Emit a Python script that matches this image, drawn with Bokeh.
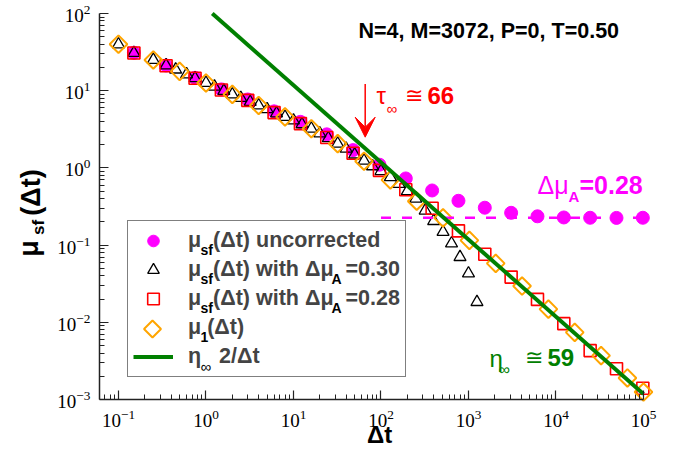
import math
from bokeh.plotting import figure
from bokeh.models import (Label, Legend, LegendItem, Arrow, VeeHead, FixedTicker, Range1d)
from bokeh.embed import file_html
from bokeh.resources import INLINE

# ---------------- data ----------------
# mu_sf(dt) uncorrected
t_unc = [0.15, 0.35, 0.75, 1.5, 3, 6, 12, 24, 48, 96, 192, 384, 768, 1536,
         3072, 6144, 12288, 24576, 49152, 98304]
mu_unc = [31.0, 21.2, 14.7, 10.4, 7.7, 5.4, 3.95, 2.72, 1.70, 1.10, 0.73, 0.51,
          0.375, 0.305, 0.262, 0.236, 0.228, 0.226, 0.225, 0.226]

# mu_sf(dt) with dmu_A = 0.30
t_030 = [0.1, 0.15, 0.25, 0.35, 0.45, 0.6, 0.75, 1, 1.25, 1.6, 2, 2.5, 3.2, 4, 5,
         6.4, 8, 10, 12.5, 16, 20, 25, 32, 40, 50, 64, 80, 100, 128, 160, 200,
         250, 320, 400, 512, 640, 800, 1000, 1250]
mu_030 = [39.8, 30.8, 25.1, 21.3, 18.8, 16.3, 14.5, 12.6, 11.3, 9.95, 8.95, 8.05,
          7.16, 6.44, 5.75, 5.09, 4.58, 4.12, 3.67, 3.22, 2.80, 2.43, 2.06, 1.77,
          1.49, 1.24, 1.05, 0.91, 0.76, 0.62, 0.50, 0.40, 0.28, 0.205, 0.148,
          0.105, 0.070, 0.043, 0.0183]

# mu_sf(dt) with dmu_A = 0.28
t_028 = [0.15, 0.35, 0.75, 1.5, 3, 6, 12, 24, 48, 96, 192, 384, 768, 1536,
         3072, 6144, 12288, 24576, 49152, 98304]
mu_028 = [30.8, 21.0, 14.5, 10.2, 7.5, 5.2, 3.75, 2.48, 1.55, 0.93, 0.52, 0.30,
          0.153, 0.076, 0.0385, 0.0198, 0.0096, 0.0043, 0.0025, 0.0014]

# mu_1(dt)
t_mu1 = [0.1, 0.25, 0.5, 1, 2, 4, 8, 16, 32, 64, 128, 256, 512, 1024, 2048,
         4096, 8192, 16384, 32768, 65536, 100000]
mu_1 = [40.0, 25.0, 17.8, 12.6, 8.95, 6.44, 4.58, 3.22, 2.06, 1.22, 0.70, 0.37,
        0.225, 0.115, 0.058, 0.0295, 0.0148, 0.0074, 0.0037, 0.00190, 0.00125]

# eta_inf * 2/dt  (eta_inf = 59)
eta_x = [1.18, 100000]
eta_y = [100.0, 0.00118]

# plateau of the uncorrected data (dmu_A)
dmu_x = [100, 100000]
dmu_y = [0.226, 0.226]

# tau_inf arrow
tau = 66
tau_arrow_y = [12.2, 2.5]

x_major = [0.1, 1, 10, 100, 1000, 10000, 100000]
y_major = [0.001, 0.01, 0.1, 1, 10, 100]

# ---------------- layout ----------------
W, H = 669, 447
XLO = -1.217          # log10 of the left end of the x axis
X_DEC = 87.5          # pixels per decade (x)
Y_DEC = 77.2          # pixels per decade (y)
FL, FT = 99, 13       # axis corner: left / top in page pixels


def at(ix, iy):
    """page pixel -> data coordinates (for text / legend placement only)"""
    return 10 ** (XLO + (ix - FL) / X_DEC), 10 ** (2 - (iy - FT) / Y_DEC)


x0, y1 = at(0, 0)
x1, y0 = at(W, H)
p = figure(width=W, height=H, x_axis_type="log", y_axis_type="log",
           x_range=Range1d(x0, x1), y_range=Range1d(y0, y1),
           output_backend="svg", toolbar_location=None,
           min_border_left=0, min_border_right=0, min_border_top=0,
           min_border_bottom=0)
p.outline_line_color = None
p.xgrid.visible = False
p.ygrid.visible = False

x_minor = [m * 10 ** k for k in range(-2, 5) for m in range(2, 10) if 10 ** XLO < m * 10 ** k < 1e5]
y_minor = [m * 10 ** k for k in range(-3, 2) for m in range(2, 10)]
p.xaxis.ticker = FixedTicker(ticks=x_major, minor_ticks=x_minor)
p.yaxis.ticker = FixedTicker(ticks=y_major, minor_ticks=y_minor)
p.xaxis.fixed_location = 1e-3
p.xaxis.bounds = (10 ** XLO, 1e5)
p.yaxis.fixed_location = 10 ** XLO
p.yaxis.bounds = (1e-3, 1e2)

for ax in (p.xaxis[0], p.yaxis[0]):
    ax.major_tick_in = 9
    ax.major_tick_out = 0
    ax.minor_tick_in = 5
    ax.minor_tick_out = 0
    ax.axis_line_width = 1.5
    ax.axis_line_color = "#222222"
    ax.major_tick_line_color = "#222222"
    ax.minor_tick_line_color = "#222222"
    ax.major_tick_line_width = 1.2
    ax.minor_tick_line_width = 1
    ax.major_label_text_font = "Liberation Serif"
    ax.major_label_text_font_size = "19px"
    ax.major_label_text_color = "black"
p.xaxis.major_label_standoff = 10
p.yaxis.major_label_standoff = 9

MAG = "#ff00ff"
RED = "#ff0000"
ORA = "#ffa500"
GRN = "#008000"

r_unc = p.scatter(t_unc, mu_unc, marker="circle", size=13, fill_color=MAG, line_color=MAG)
r_030 = p.scatter(t_030, mu_030, marker="triangle", size=12, fill_color=None,
                  line_color="black", line_width=1.3)
r_028 = p.scatter(t_028, mu_028, marker="square", size=12, fill_color=None,
                  line_color=RED, line_width=1.6)
r_mu1 = p.scatter(t_mu1, mu_1, marker="square", angle=math.pi / 4, size=12.5,
                  fill_color=None, line_color=ORA, line_width=2)
p.line(dmu_x, dmu_y, line_color=MAG, line_width=2.5, line_dash="10 11")
r_eta = p.line(eta_x, eta_y, line_color=GRN, line_width=4)

p.add_layout(Arrow(x_start=tau, y_start=tau_arrow_y[0], x_end=tau, y_end=tau_arrow_y[1],
                   line_color=RED, line_width=1.5,
                   end=VeeHead(size=20, fill_color=RED, line_color=RED)))

# ---------------- legend ----------------
LEG_L, LEG_B = 127, 377          # legend box left / bottom (page px)
ROW0, ROW_H = 241.5, 29          # first row centre, row height
rows = [ROW0 + i * ROW_H for i in range(5)]

# legend sample for the rotated-square (diamond) series; bokeh legends draw markers unrotated
r_mu1_key = p.scatter(x=[], y=[], marker="square", fill_alpha=0, line_alpha=0)
kx, ky = at(LEG_L + 5 + 20, rows[3])
p.scatter(x=[kx], y=[ky], marker="square", angle=math.pi / 4, size=12,
          fill_color=None, line_color=ORA, line_width=2)

NB = "\u00a0"
legend = Legend(items=[
    LegendItem(label="\u03bc" + NB * 2 + "(\u0394t) uncorrected", renderers=[r_unc]),
    LegendItem(label="\u03bc" + NB * 2 + "(\u0394t) with \u0394\u03bc" + NB * 2 + "=0.30", renderers=[r_030]),
    LegendItem(label="\u03bc" + NB * 2 + "(\u0394t) with \u0394\u03bc" + NB * 2 + "=0.28", renderers=[r_028]),
    LegendItem(label="\u03bc" + NB + "(\u0394t)", renderers=[r_mu1_key]),
    LegendItem(label="\u03b7" + NB * 3 + "2/\u0394t", renderers=[r_eta]),
], location=(LEG_L, H - LEG_B), orientation="vertical", glyph_width=40, glyph_height=ROW_H,
    label_height=ROW_H, spacing=0, padding=5, label_standoff=15, margin=0,
    label_text_font="Liberation Sans", label_text_font_style="bold",
    label_text_font_size="21.5px", border_line_color="black", border_line_width=1.5,
    background_fill_alpha=0.0)
p.add_layout(legend)


def lab(ix, iy, text, size, color="black", style="bold", align="left", angle=0.0):
    x, y = at(ix, iy)
    p.add_layout(Label(x=x, y=y, text=text, text_font="Liberation Sans",
                       text_font_size=f"{size}px", text_font_style=style,
                       text_color=color, text_align=align, text_baseline="middle",
                       angle=angle, level="overlay"))


TX = LEG_L + 5 + 40 + 15         # legend text start
for ry in rows[:3]:
    lab(TX + 13, ry + 7.5, "sf", 14)
for ry in rows[1:3]:
    lab(331, ry + 7.5, "A", 14)
lab(TX + 13, rows[3] + 7.5, "1", 14)
lab(TX + 13, rows[4] + 8, "\u221e", 15, style="normal")

# ---------------- annotations ----------------
lab(358, 30, "N=4, M=3072, P=0, T=0.50", 21.5)
lab(376, 95, "\u03c4", 24, RED, "normal")
lab(386, 108, "\u221e", 15, RED, "normal")
lab(404, 95, "\u2245", 22, RED, "normal")
lab(427, 95, "66", 24, RED)
lab(537, 184, "\u0394\u03bc", 25, MAG, "normal")
lab(568, 196, "A", 15, MAG)
lab(579, 184, "=0.28", 25, MAG)
lab(489, 358, "\u03b7", 24, GRN, "normal")
lab(498, 369, "\u221e", 16, GRN, "normal")
lab(524, 357, "\u2245", 22, GRN, "normal")
lab(547, 357, "59", 24, GRN)

# axis titles
lab(379, 434, "\u0394t", 24, align="center")
lab(30, 192, "(\u0394t)", 27, align="center", angle=math.pi / 2)
lab(38, 227, "sf", 17, align="center", angle=math.pi / 2)
lab(28, 248, "\u03bc", 27, align="center", angle=math.pi / 2)

open("out.html", "w").write(file_html(p, INLINE))
